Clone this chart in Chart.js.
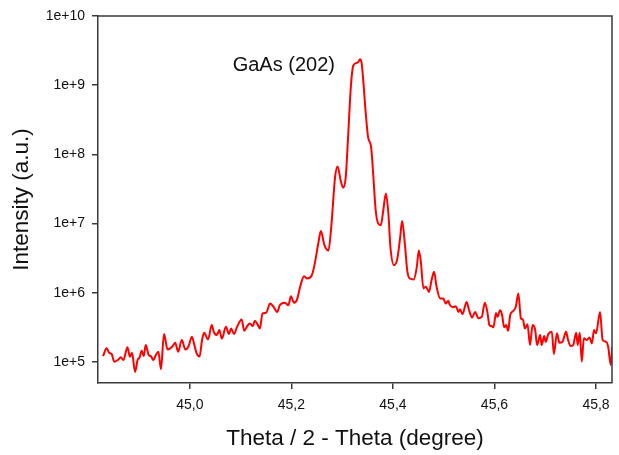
<!DOCTYPE html>
<html>
<head>
<meta charset="utf-8">
<script src="https://cdn.jsdelivr.net/npm/chart.js@4/dist/chart.umd.min.js"></script>
<style>
  html, body { margin: 0; padding: 0; background: #fff; }
  #wrap { width: 619px; height: 455px; position: relative; }
</style>
</head>
<body>
<div id="wrap"><canvas id="xrd"></canvas></div>
<script>
// omega/2theta scan around the GaAs (202) reflection
var thetaDeg = [44.829,44.836,44.841,44.846,44.851,44.858,44.864,44.869,44.877,44.882,44.886,44.892,44.897,44.901,44.905,44.909,44.913,44.919,44.923,44.928,44.933,44.938,44.943,44.949,44.956,44.965,44.971,44.977,44.984,44.991,44.997,45.004,45.008,45.013,45.019,45.024,45.028,
  45.036,45.043,45.047,45.053,45.058,45.063,45.071,45.077,45.081,45.087,45.093,45.102,45.107,45.113,45.118,45.124,45.128,45.133,45.138,45.143,45.150,45.158,45.164,45.172,45.177,45.187,45.194,45.199,45.205,45.211,45.218,45.225,45.231,45.240,
  45.246,45.253,45.258,45.265,45.273,45.279,45.286,45.291,45.297,45.302,45.307,45.312,45.317,45.322,45.327,45.332,45.335,45.338,45.341,45.346,45.351,45.357,45.361,45.366,45.371,45.376,45.381,45.386,45.391,45.395,45.402,45.408,45.414,45.418,45.424,45.428,45.433,45.441,45.447,45.451,45.455,45.460,45.465,45.471,45.476,45.481,45.486,45.493,45.499,
  45.504,45.509,45.512,45.518,45.524,45.529,45.532,45.537,45.545,45.550,45.556,45.562,45.568,45.575,45.581,45.586,45.590,45.594,45.598,45.603,45.606,45.611,45.615,45.619,45.623,45.627,45.631,45.637,45.642,45.647,45.652,45.656,45.660,45.665,45.670,45.675,45.680,45.684,45.690,45.693,45.698,45.701,45.706,45.713,45.717,45.723,45.728,45.734,45.741,45.745,45.750,45.755,45.761,45.764,45.768,45.772,45.776,45.782,45.787,45.792,45.796,45.800,45.808,45.813,45.820,45.824,45.829,45.832];

var intensity = [1.22e5,1.58e5,1.36e5,1.30e5,1.01e5,1.07e5,1.17e5,1.07e5,1.63e5,1.19e5,1.36e5,7.2e4,1.07e5,1.17e5,1.46e5,1.22e5,1.76e5,1.26e5,1.22e5,1.07e5,1.26e5,1.41e5,7.9e4,2.54e5,1.52e5,1.66e5,1.90e5,1.41e5,2.08e5,1.52e5,1.66e5,2.32e5,1.86e5,1.36e5,1.20e5,2.08e5,2.65e5,
  2.13e5,3.42e5,2.74e5,2.45e5,2.90e5,2.17e5,3.23e5,2.54e5,3.06e5,2.54e5,3.23e5,4.13e5,2.83e5,3.31e5,3.61e5,3.31e5,3.94e5,3.53e5,3.06e5,5.05e5,5.15e5,7.0e5,6.4e5,5.3e5,6.6e5,7.2e5,6.6e5,8.9e5,7.2e5,8.0e5,1.29e6,1.74e6,1.61e6,1.78e6,
  2.65e6,5.2e6,7.8e6,4.9e6,4.1e6,1.0e7,4.7e7,6.7e7,4.2e7,3.3e7,4.7e7,2.0e8,9.4e8,1.93e9,2.08e9,2.18e9,2.38e9,2.15e9,1.31e9,4.3e8,1.78e8,1.28e8,5.3e7,1.56e7,1.0e7,9.5e6,1.56e7,2.72e7,1.40e7,4.6e6,2.51e6,2.97e6,6.1e6,1.09e7,4.6e6,2.13e6,1.61e6,1.56e6,2.37e6,4.1e6,2.80e6,1.16e6,1.22e6,1.03e6,1.52e6,2.01e6,1.22e6,8.3e5,8.3e5,
  7.0e5,7.7e5,6.7e5,6.2e5,6.4e5,5.3e5,5.8e5,4.9e5,7.4e5,5.6e5,4.4e5,5.3e5,4.3e5,4.5e5,7.2e5,5.3e5,3.42e5,3.31e5,3.17e5,5.1e5,4.5e5,5.6e5,4.8e5,3.17e5,3.42e5,2.83e5,4.8e5,5.5e5,6.3e5,9.8e5,4.3e5,4.1e5,3.06e5,3.53e5,1.76e5,3.42e5,2.96e5,1.76e5,2.45e5,1.76e5,2.37e5,1.96e5,2.54e5,2.74e5,1.30e5,2.60e5,1.90e5,1.96e5,2.74e5,2.08e5,1.70e5,1.76e5,2.65e5,1.76e5,2.65e5,1.01e5,2.20e5,2.08e5,2.27e5,1.86e5,2.90e5,2.60e5,5.3e5,2.08e5,1.96e5,1.66e5,9.1e4,1.66e5];

var xTicks = [45.0, 45.2, 45.4, 45.6, 45.8];
var yTicks = [1e5, 1e6, 1e7, 1e8, 1e9, 1e10];
var yTickLabels = ["1e+5", "1e+6", "1e+7", "1e+8", "1e+9", "1e+10"];

var peakName = "GaAs (202)";
var peakLabelAt = {x: 45.185, y: 1.9e9};

var axisColor = "#3a3a3a";
var textColor = "#111";
var fontFam = "'Liberation Sans', Arial, sans-serif";

// top and right edges of the frame + the peak label
var framePlugin = {
  id: "frame",
  afterDatasetsDraw: function(chart){
    var a = chart.chartArea, c = chart.ctx;
    c.save();
    c.strokeStyle = axisColor;
    c.lineWidth = 1.5;
    c.beginPath();
    c.moveTo(a.left, a.top);
    c.lineTo(a.right, a.top);
    c.lineTo(a.right, a.bottom);
    c.stroke();
    var px = chart.scales.x.getPixelForValue(peakLabelAt.x);
    var py = chart.scales.y.getPixelForValue(peakLabelAt.y);
    c.fillStyle = textColor;
    c.font = "20px " + fontFam;
    c.textAlign = "center";
    c.textBaseline = "middle";
    c.fillText(peakName, px, py);
    c.restore();
  }
};

var pts = thetaDeg.map(function(t, i){ return {x: t, y: intensity[i]}; });

new Chart("xrd", {
  type: "line",
  data: {
    datasets: [{
      data: pts,
      borderColor: "#ff0000",
      borderWidth: 2,
      pointRadius: 0,
      fill: false,
      cubicInterpolationMode: "monotone"
    }]
  },
  plugins: [framePlugin],
  options: {
    responsive: true,
    maintainAspectRatio: false,
    animation: false,
    layout: {padding: {top: 16, right: 7, left: 0, bottom: 0}},
    plugins: {legend: {display: false}, tooltip: {enabled: false}},
    scales: {
      x: {
        type: "linear",
        min: 44.819,
        max: 45.8315,
        afterBuildTicks: function(s){ s.ticks = xTicks.map(function(v){ return {value: v}; }); },
        afterFit: function(s){ s.height = 72; },
        ticks: {
          color: textColor,
          font: {family: fontFam, size: 14},
          padding: 8,
          maxRotation: 0,
          callback: function(v){ return v.toFixed(1).replace(".", ","); }
        },
        grid: {drawOnChartArea: false, drawTicks: true, tickLength: 6, color: axisColor, lineWidth: 1.5},
        border: {display: true, color: axisColor, width: 1.5},
        title: {
          display: true,
          text: "Theta / 2 - Theta (degree)",
          color: textColor,
          font: {family: fontFam, size: 22.5},
          padding: {top: 0, bottom: 3}
        }
      },
      y: {
        type: "logarithmic",
        min: 4.98e4,
        max: 1e10,
        afterBuildTicks: function(s){ s.ticks = yTicks.map(function(v){ return {value: v}; }); },
        afterFit: function(s){ s.width = 98; },
        ticks: {
          color: textColor,
          font: {family: fontFam, size: 14},
          padding: 7,
          callback: function(v){ var k = yTicks.indexOf(v); return k >= 0 ? yTickLabels[k] : ""; }
        },
        grid: {drawOnChartArea: false, drawTicks: true, tickLength: 6, color: axisColor, lineWidth: 1.5},
        border: {display: true, color: axisColor, width: 1.5},
        title: {
          display: true,
          text: "Intensity (a.u.)",
          color: textColor,
          font: {family: fontFam, size: 22.5},
          padding: {top: 8, bottom: 0}
        }
      }
    }
  }
});
</script>
</body>
</html>
